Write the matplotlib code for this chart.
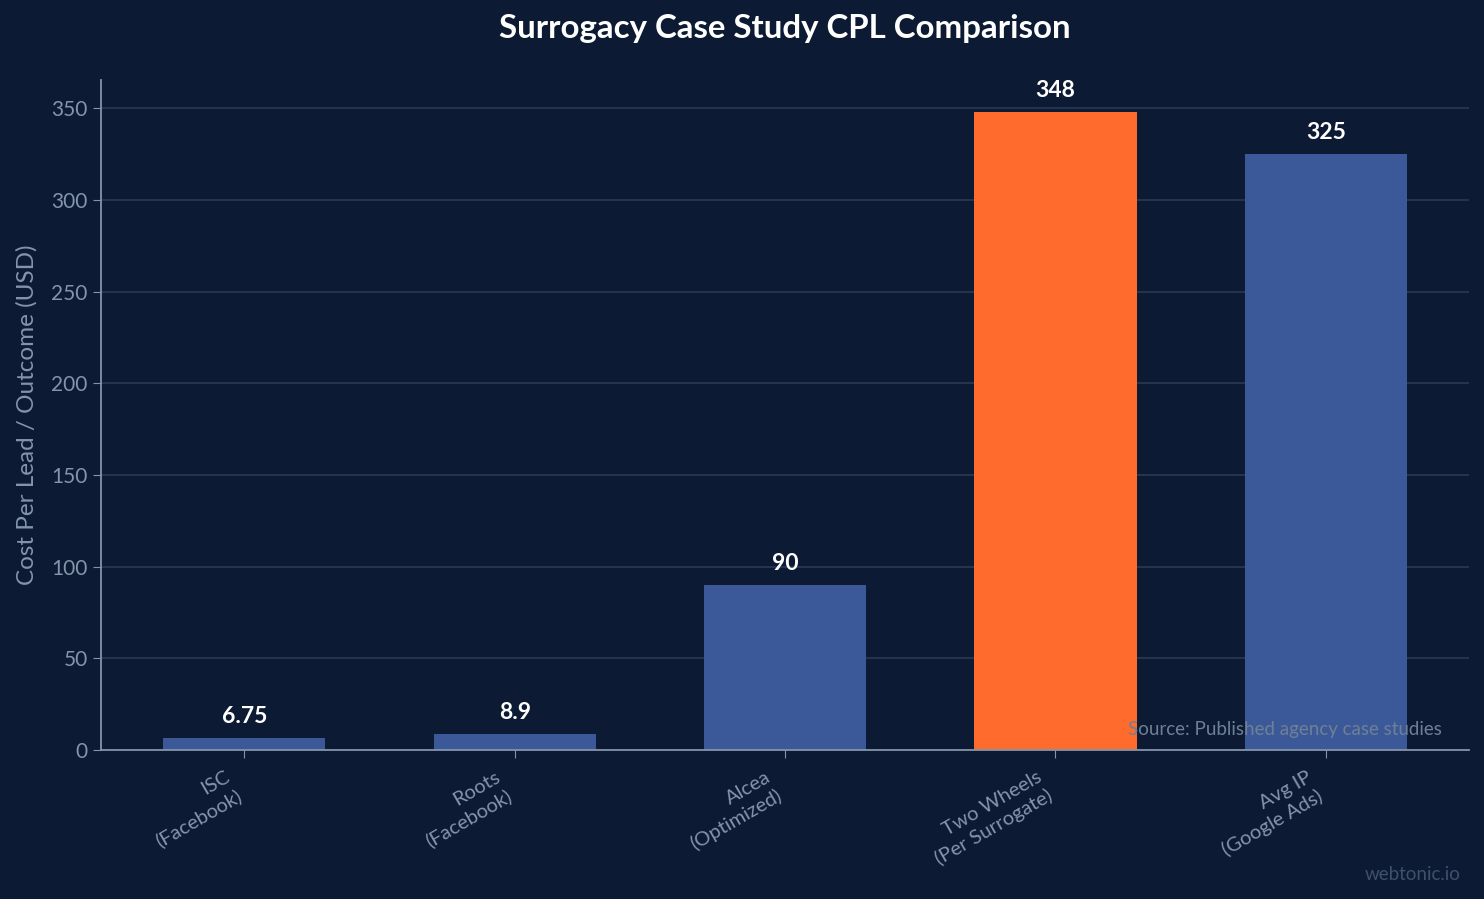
import matplotlib
matplotlib.use("Agg")
import matplotlib.pyplot as plt

# data
categories = ["ISC\n(Facebook)", "Roots\n(Facebook)", "Alcea\n(Optimized)",
              "Two Wheels\n(Per Surrogate)", "Avg IP\n(Google Ads)"]
values = [6.75, 8.9, 90, 348, 325]
value_labels = ["6.75", "8.9", "90", "348", "325"]
highlight = [False, False, False, True, False]

bg = "#0c1b33"
blue = "#3b5998"
orange = "#ff6b2c"
muted = "#8494ab"

plt.rcParams['font.family'] = ['Lato', 'DejaVu Sans']

fig = plt.figure(figsize=(14.84, 8.99), dpi=100, facecolor=bg)
ax = fig.add_axes([0.068, 0.1657, 0.922, 0.7453])
ax.set_facecolor(bg)

colors = [orange if h else blue for h in highlight]
x = range(len(categories))
bars = ax.bar(x, values, width=0.6, color=colors, zorder=2)

for b, lab in zip(bars, value_labels):
    ax.annotate(lab, (b.get_x() + b.get_width() / 2, b.get_height()),
                xytext=(0, 8), textcoords="offset points",
                ha="center", va="bottom", color="white",
                fontsize=16.5, fontweight="bold")

ax.set_ylim(0, 348 * 1.05)
ax.set_xticks(list(x))
ax.set_xticklabels(categories, rotation=30, ha="right",
                   color=muted, fontsize=14.5, linespacing=1.3)
ax.tick_params(axis="y", colors=muted, labelsize=15, length=6)
ax.tick_params(axis="x", colors=muted, length=6, pad=7)
ax.set_yticks([0, 50, 100, 150, 200, 250, 300, 350])

ax.grid(axis="y", color="#2a3a56", linewidth=1.2, zorder=0)
ax.set_axisbelow(True)
for s in ["top", "right"]:
    ax.spines[s].set_visible(False)
for s in ["left", "bottom"]:
    ax.spines[s].set_color(muted)
    ax.spines[s].set_linewidth(1.3)

ax.set_ylabel("Cost Per Lead / Outcome (USD)", color=muted, fontsize=17.5, labelpad=10)
ax.set_title("Surrogacy Case Study CPL Comparison", color="white",
             fontsize=23.8, fontweight="bold", pad=30)

ax.text(0.98, 0.03, "Source: Published agency case studies", transform=ax.transAxes,
        ha="right", va="center", color="#6f7f96", fontsize=13.5, zorder=5)
fig.text(0.984, 0.027, "webtonic.io", ha="right", va="center",
         color="#3f506c", fontsize=13.5)

fig.savefig("out.png", dpi=100, facecolor=bg)
